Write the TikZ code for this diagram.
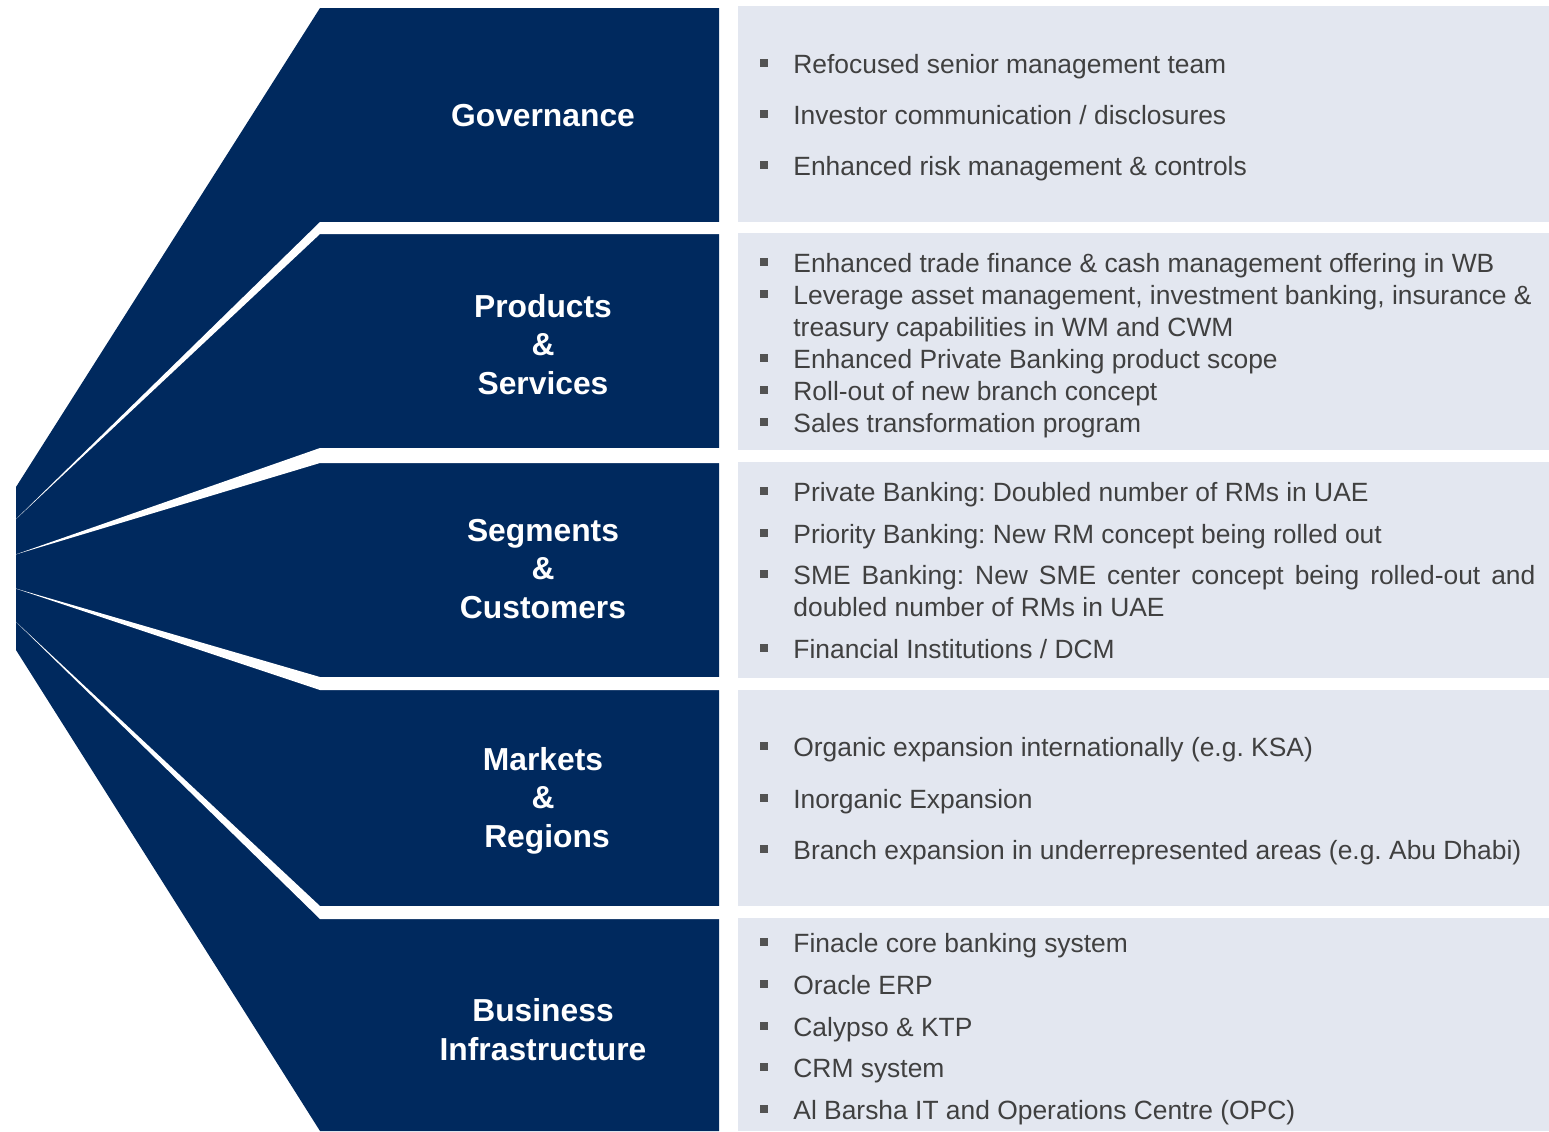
\documentclass[tikz,border=0pt]{standalone}
\usepackage{fontspec}
\setmainfont{Liberation Sans}
\definecolor{navy}{RGB}{0,41,94}
\definecolor{pale}{RGB}{227,231,240}
\definecolor{txt}{RGB}{64,64,64}
\frenchspacing
\begin{document}
\begin{tikzpicture}[x=0.5pt,y=-0.5pt,
  lab/.style={text=white,font=\fontsize{15.9}{19}\selectfont\bfseries,anchor=base,inner sep=0pt},
  item/.style={text=txt,font=\fontsize{13.2}{16}\selectfont\frenchspacing,anchor=base west,inner sep=0pt},
  bul/.style={fill=txt!90,minimum size=3.8pt,inner sep=0pt,anchor=center}]
\useasboundingbox (0,0) rectangle (1549,1131);
% pale boxes
\fill[pale] (738,6) rectangle (1549,222);
\fill[pale] (738,233) rectangle (1549,450);
\fill[pale] (738,462) rectangle (1549,678);
\fill[pale] (738,690) rectangle (1549,906);
\fill[pale] (738,918) rectangle (1549,1131);
% navy fan
\fill[navy] (320,8) -- (719,8) -- (719,1131) -- (320,1131) -- (16,650) -- (16,487) -- cycle;
% white wedges
\fill[white] (14,521) -- (320,222) -- (728,222) -- (728,234) -- (320,234) -- cycle;
\fill[white] (14,555) -- (320,448) -- (728,448) -- (728,463) -- (320,463) -- cycle;
\fill[white] (14,588) -- (320,677) -- (728,677) -- (728,690) -- (320,690) -- cycle;
\fill[white] (14,620) -- (320,906) -- (728,906) -- (728,919) -- (320,919) -- cycle;
% labels
\node[lab] (l1) at (543,126.4) {Governance};
\node[lab] (l2a) at (543,317.4) {Products};
\node[lab] (l2b) at (543,355.4) {\&};
\node[lab] (l2c) at (543,394.4) {Services};
\node[lab] (l3a) at (543,541.4) {Segments};
\node[lab] (l3b) at (543,579.4) {\&};
\node[lab] (l3c) at (543,618.4) {Customers};
\node[lab] (l4a) at (543,770.4) {Markets};
\node[lab] (l4b) at (543,808.4) {\&};
\node[lab] (l4c) at (547,847.4) {Regions};
\node[lab] (l5a) at (543,1021.4) {Business};
\node[lab] (l5b) at (543,1060.4) {Infrastructure};
% items: box 1
\node[bul] (b1) at (764,63) {}; \node[item] (t1) at (793,73.5) {Refocused senior management team};
\node[bul] (b2) at (764,114) {}; \node[item] (t2) at (793,124.5) {Investor communication / disclosures};
\node[bul] (b3) at (764,165) {}; \node[item] (t3) at (793,175.5) {Enhanced risk management \& controls};
% box 2
\node[bul] (b4) at (764,262) {}; \node[item] (t4) at (793,272.5) {Enhanced trade finance \& cash management offering in WB};
\node[bul] (b5) at (764,294) {}; \node[item] (t5) at (793,304.5) {Leverage asset management, investment banking, insurance \&};
\node[item] (t5b) at (793,336.5) {treasury capabilities in WM and CWM};
\node[bul] (b6) at (764,358) {}; \node[item] (t6) at (793,368.5) {Enhanced Private Banking product scope};
\node[bul] (b7) at (764,390) {}; \node[item] (t7) at (793,400.5) {Roll-out of new branch concept};
\node[bul] (b8) at (764,422) {}; \node[item] (t8) at (793,432.5) {Sales transformation program};
% box 3
\node[bul] (b9) at (764,491) {}; \node[item] (t9) at (793,501.5) {Private Banking: Doubled number of RMs in UAE};
\node[bul] (b10) at (764,533) {}; \node[item] (t10) at (793,543.5) {Priority Banking: New RM concept being rolled out};
\node[bul] (b11) at (764,574) {}; \node[item] (t11) at (793,584.5) {\makebox[371pt][s]{SME Banking: New SME center concept being rolled-out and}};
\node[item] (t11b) at (793,616.5) {doubled number of RMs in UAE};
\node[bul] (b12) at (764,648) {}; \node[item] (t12) at (793,658.5) {Financial Institutions / DCM};
% box 4
\node[bul] (b13) at (764,746) {}; \node[item] (t13) at (793,756.5) {Organic expansion internationally (e.g. KSA)};
\node[bul] (b14) at (764,798) {}; \node[item] (t14) at (793,808.5) {Inorganic Expansion};
\node[bul] (b15) at (764,849) {}; \node[item] (t15) at (793,859.5) {Branch expansion in underrepresented areas (e.g. Abu Dhabi)};
% box 5
\node[bul] (b16) at (764,942) {}; \node[item] (t16) at (793,952.5) {Finacle core banking system};
\node[bul] (b17) at (764,984) {}; \node[item] (t17) at (793,994.5) {Oracle ERP};
\node[bul] (b18) at (764,1026) {}; \node[item] (t18) at (793,1036.5) {Calypso \& KTP};
\node[bul] (b19) at (764,1067) {}; \node[item] (t19) at (793,1077.5) {CRM system};
\node[bul] (b20) at (764,1109) {}; \node[item] (t20) at (793,1119.5) {Al Barsha IT and Operations Centre (OPC)};
\end{tikzpicture}
\end{document}
